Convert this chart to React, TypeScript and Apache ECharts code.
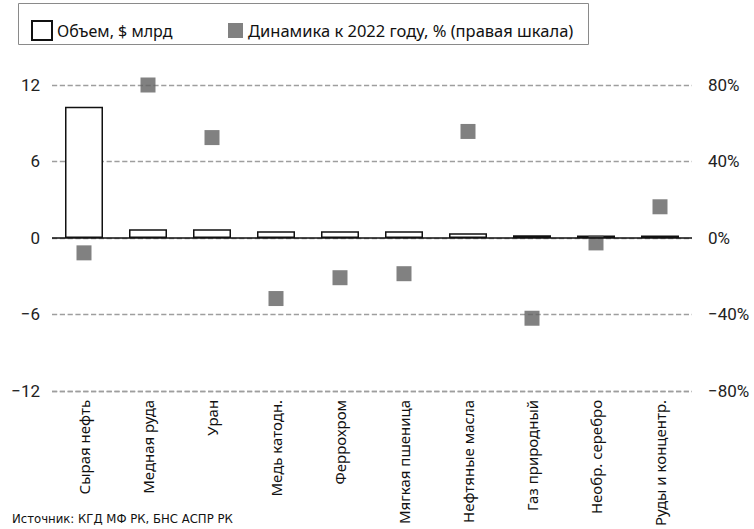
import React, { useEffect, useRef } from "react";
import * as echarts from "echarts";

const categories = [
  "Сырая нефть",
  "Медная руда",
  "Уран",
  "Медь катодн.",
  "Феррохром",
  "Мягкая пшеница",
  "Нефтяные масла",
  "Газ природный",
  "Необр. серебро",
  "Руды и концентр.",
];
const volumes = [10.3, 0.68, 0.68, 0.52, 0.52, 0.52, 0.37, 0.21, 0.2, 0.2];
const dynamics = [-7.8, 80, 52.5, -31.7, -20.8, -18.7, 55.7, -42, -2.6, 16.3];
const volumeName = "Объем, $ млрд";
const dynamicsName = "Динамика к 2022 году, % (правая шкала)";
const sourceText = "Источник: КГД МФ РК, БНС АСПР РК";

export default function App() {
  const ref = useRef<HTMLDivElement>(null);
  useEffect(() => {
    document.body.style.margin = "0";
    if (!ref.current) return;
    const chart = echarts.init(ref.current, undefined, { renderer: "svg" });
    const labelFont = "'Noto Sans', 'DejaVu Sans', sans-serif";
    const numFont = "Roboto, 'Liberation Sans', sans-serif";
    const dashed = { color: "#9e9e9e", type: "dashed", width: 1.3, opacity: 1 };
    chart.setOption({
      animation: false,
      backgroundColor: "#ffffff",
      grid: { left: 52, right: 62, top: 85, bottom: 136, containLabel: false },
      legend: [
        {
          data: [{ name: volumeName, icon: "rect" }],
          left: 31,
          top: 20,
          padding: 0,
          itemWidth: 20,
          itemHeight: 19,
          selectedMode: false,
          textStyle: { fontFamily: labelFont, fontSize: 16, color: "#111" },
        },
        {
          data: [{ name: dynamicsName, icon: "rect" }],
          left: 228,
          top: 22,
          padding: 0,
          itemWidth: 15,
          itemHeight: 15,
          selectedMode: false,
          textStyle: { fontFamily: labelFont, fontSize: 16.5, color: "#111" },
        },
      ],
      graphic: [
        {
          type: "rect",
          shape: { x: 18.5, y: 3.5, width: 570, height: 41 },
          style: { fill: "none", stroke: "#8a8a8a", lineWidth: 1 },
          silent: true,
        },
        {
          type: "text",
          left: 12,
          top: 512,
          style: {
            text: sourceText,
            fontFamily: "'Liberation Sans Narrow', 'DejaVu Sans Condensed', sans-serif",
            fontSize: 13,
            fill: "#111",
          },
        },
      ],
      xAxis: {
        type: "category",
        data: categories,
        position: "bottom",
        axisLine: { show: false, onZero: false },
        axisTick: { show: false },
        splitLine: { show: false },
        axisLabel: {
          rotate: 90,
          margin: 9,
          interval: 0,
          fontFamily: labelFont,
          fontSize: 15,
          color: "#111",
        },
      },
      yAxis: [
        {
          type: "value",
          min: -12,
          max: 12,
          interval: 6,
          axisLine: { show: false },
          axisTick: { show: false },
          splitLine: { show: true, lineStyle: dashed },
          axisLabel: {
            margin: 12,
            fontFamily: numFont,
            fontSize: 17,
            color: "#222",
            formatter: (v: number) => (v < 0 ? "\u2212" + Math.abs(v) : String(v)),
          },
        },
        {
          type: "value",
          min: -80,
          max: 80,
          interval: 40,
          position: "right",
          axisLine: { show: false },
          axisTick: { show: false },
          splitLine: { show: false },
          axisLabel: {
            margin: 16,
            fontFamily: numFont,
            fontSize: 17,
            color: "#222",
            formatter: (v: number) => (v < 0 ? "\u2212" + Math.abs(v) : String(v)) + "%",
          },
        },
      ],
      series: [
        {
          name: volumeName,
          type: "bar",
          data: volumes,
          barWidth: 38,
          yAxisIndex: 0,
          itemStyle: { color: "#ffffff", borderColor: "#111111", borderWidth: 1.5 },
          markLine: {
            silent: true,
            symbol: "none",
            label: { show: false },
            lineStyle: { color: "#111111", width: 1.5, type: "solid" },
            data: [{ yAxis: 0 }, { yAxis: -12, lineStyle: dashed }],
          },
          z: 2,
        },
        {
          name: dynamicsName,
          type: "scatter",
          data: dynamics,
          yAxisIndex: 1,
          symbol: "rect",
          symbolSize: 15,
          itemStyle: { color: "#626262" },
          z: 3,
        },
      ],
    });
    return () => chart.dispose();
  }, []);
  return <div ref={ref} style={{ width: 754, height: 529 }} />;
}
